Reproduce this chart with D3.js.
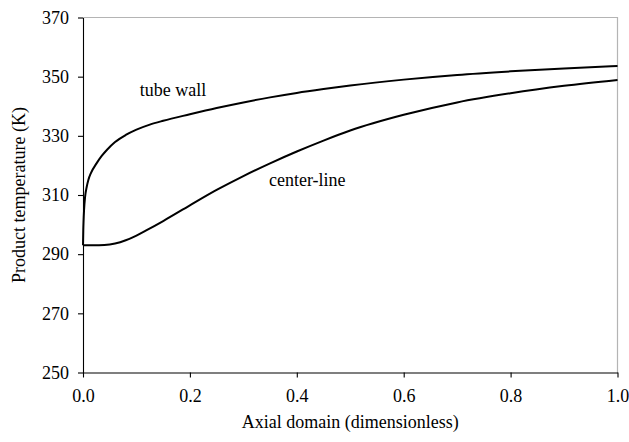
<!DOCTYPE html>
<html>
<head>
<meta charset="utf-8">
<script src="https://cdn.jsdelivr.net/npm/d3@7"></script>
<style>
  body { margin: 0; background: #fff; }
  svg text { font-family: "Liberation Serif", "Times New Roman", "DejaVu Serif", serif !important; fill: #000; }
</style>
</head>
<body>
<div id="chart"></div>
<script>
// axial position (dimensionless) and product temperature (K)
const wallX = [0, 0.0005, 0.001, 0.002, 0.004, 0.007, 0.01, 0.015, 0.025, 0.035, 0.045, 0.06, 0.08, 0.1, 0.125, 0.15, 0.2, 0.25, 0.3, 0.35, 0.4, 0.45, 0.5, 0.6, 0.7, 0.8, 0.9, 1.0];
const wallT = [293, 298, 301, 305, 309.5, 312.8, 315.1, 317.5, 320.6, 323.2, 325.3, 327.9, 330.3, 332.1, 333.8, 335.1, 337.3, 339.4, 341.3, 343.0, 344.5, 345.8, 347.0, 349.0, 350.6, 351.8, 352.8, 353.6];

const centerX = [0, 0.02, 0.04, 0.06, 0.08, 0.1, 0.12, 0.15, 0.2, 0.25, 0.3, 0.35, 0.4, 0.45, 0.5, 0.6, 0.7, 0.8, 0.9, 1.0];
const centerT = [293, 293, 293.1, 293.6, 294.7, 296.3, 298.2, 301.2, 306.5, 311.7, 316.4, 320.7, 324.7, 328.4, 331.8, 337.1, 341.3, 344.4, 346.9, 348.9];

const xTicks = [0, 0.2, 0.4, 0.6, 0.8, 1.0];
const yTicks = [250, 270, 290, 310, 330, 350, 370];

const curveLabels = [
  {text: "tube wall", x: 0.106, t: 343.6},
  {text: "center-line", x: 0.348, t: 313.1}
];

let dimensions = {
  width: 629,
  height: 442,
  margin: {top: 17.5, right: 11.5, bottom: 69.5, left: 83}
};
dimensions.boundedWidth = dimensions.width - dimensions.margin.left - dimensions.margin.right;
dimensions.boundedHeight = dimensions.height - dimensions.margin.top - dimensions.margin.bottom;

const svg = d3.select("#chart").append("svg")
    .attr("width", dimensions.width)
    .attr("height", dimensions.height)
    .attr("font-family", '"Liberation Serif", serif');

const bounds = svg.append("g")
    .attr("transform", `translate(${dimensions.margin.left},${dimensions.margin.top})`);

const xScale = d3.scaleLinear()
  .domain([0, 1])
  .range([0, dimensions.boundedWidth]);

const yScale = d3.scaleLinear()
  .domain([250, 370])
  .range([dimensions.boundedHeight, 0]);

// plot area frame (grey top and right)
bounds.append("path")
  .attr("d", `M0,0H${dimensions.boundedWidth}V${dimensions.boundedHeight}`)
  .attr("fill", "none")
  .attr("stroke", "#b4b4b4")
  .attr("stroke-width", 1.2);

const xAxis = bounds.append("g")
  .attr("transform", `translate(0,${dimensions.boundedHeight})`)
  .call(d3.axisBottom(xScale).tickValues(xTicks).tickFormat(d3.format(".1f")).tickSize(5).tickSizeOuter(0).tickPadding(12));

const yAxis = bounds.append("g")
  .call(d3.axisLeft(yScale).tickValues(yTicks).tickFormat(d3.format("d")).tickSize(5).tickSizeOuter(0).tickPadding(9));

[xAxis, yAxis].forEach(a => {
  a.attr("font-family", null).attr("font-size", null);
  a.selectAll("path, line").attr("stroke", "#000").attr("stroke-width", 1.1);
  a.selectAll("text").style("font-size", "18px").attr("fill", "#000");
});

const line = d3.line()
  .x(d => xScale(d[0]))
  .y(d => yScale(d[1]))
  .curve(d3.curveMonotoneX);

bounds.append("path")
  .datum(d3.zip(wallX, wallT))
  .attr("d", line)
  .attr("fill", "none")
  .attr("stroke", "#000")
  .attr("stroke-width", 2);

bounds.append("path")
  .datum(d3.zip(centerX, centerT))
  .attr("d", line)
  .attr("fill", "none")
  .attr("stroke", "#000")
  .attr("stroke-width", 2);

bounds.selectAll(".clabel")
  .data(curveLabels)
  .enter().append("text")
    .attr("class", "clabel")
    .attr("x", d => xScale(d.x))
    .attr("y", d => yScale(d.t))
    .style("font-size", "18px")
    .text(d => d.text);

svg.append("text")
  .attr("x", dimensions.margin.left + dimensions.boundedWidth / 2)
  .attr("y", 428)
  .attr("text-anchor", "middle")
  .style("font-size", "18px")
  .text("Axial domain (dimensionless)");

svg.append("text")
  .attr("transform", `translate(25,${dimensions.margin.top + dimensions.boundedHeight / 2}) rotate(-90)`)
  .attr("text-anchor", "middle")
  .style("font-size", "18px")
  .text("Product temperature (K)");
</script>
</body>
</html>
